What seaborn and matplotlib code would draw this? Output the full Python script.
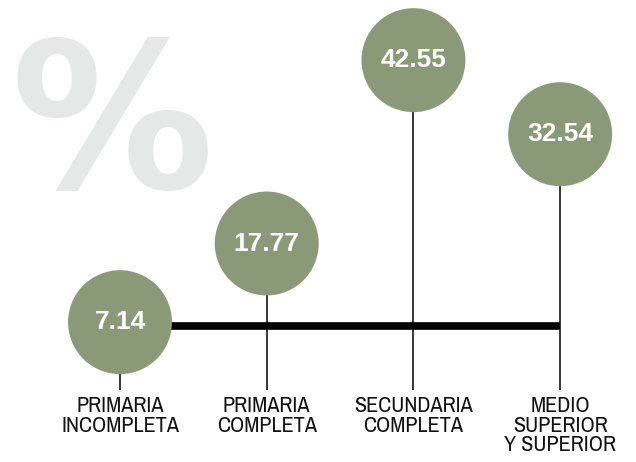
import matplotlib
matplotlib.use("Agg")
import matplotlib.pyplot as plt
import seaborn as sns
import pandas as pd

# data
categories = ["PRIMARIA\nINCOMPLETA", "PRIMARIA\nCOMPLETA", "SECUNDARIA\nCOMPLETA", "MEDIO\nSUPERIOR\nY SUPERIOR"]
values = [7.14, 17.77, 42.55, 32.54]
value_labels = ["7.14", "17.77", "42.55", "32.54"]

df = pd.DataFrame({"pos": range(len(values)), "value": values})

sns.set_style("white")
plt.rcParams['font.family'] = ['Liberation Sans', 'DejaVu Sans']

green = "#8a9977"
fig = plt.figure(figsize=(6.36, 4.62), dpi=100)
ax = fig.add_axes([0, 0, 1, 1])
ax.set_xlim(-0.818, 3.517)
ax.set_ylim(-11.76, 50.68)
ax.axis("off")

# big background percent sign
ax.text(0.016, 0.592, "%", transform=ax.transAxes, fontsize=146, color="#e6e7e7",
        ha="left", va="baseline", zorder=0, family=['DejaVu Sans'], fontweight="bold")

# stems
ax.vlines(df["pos"], -2, df["value"], color="black", lw=1.1, zorder=1)
# thick baseline bar
ax.plot([0, 3], [6.6, 6.6], color="black", lw=5.5, solid_capstyle="butt", zorder=1)

sns.scatterplot(data=df, x="pos", y="value", s=5600, color=green, edgecolor="none",
                ax=ax, zorder=2, legend=False)

for i, (v, lab) in enumerate(zip(values, value_labels)):
    ax.text(i, v, lab, ha="center", va="center", color="white", fontsize=19,
            fontweight="bold", zorder=3)

for i, c in enumerate(categories):
    ax.text(i, -2.85, c, ha="center", va="top", fontsize=16, linespacing=0.98,
            color="#111111", family=['Liberation Sans Narrow', 'Archivo Narrow', 'Liberation Sans'])

fig.savefig("out.png", dpi=100)
